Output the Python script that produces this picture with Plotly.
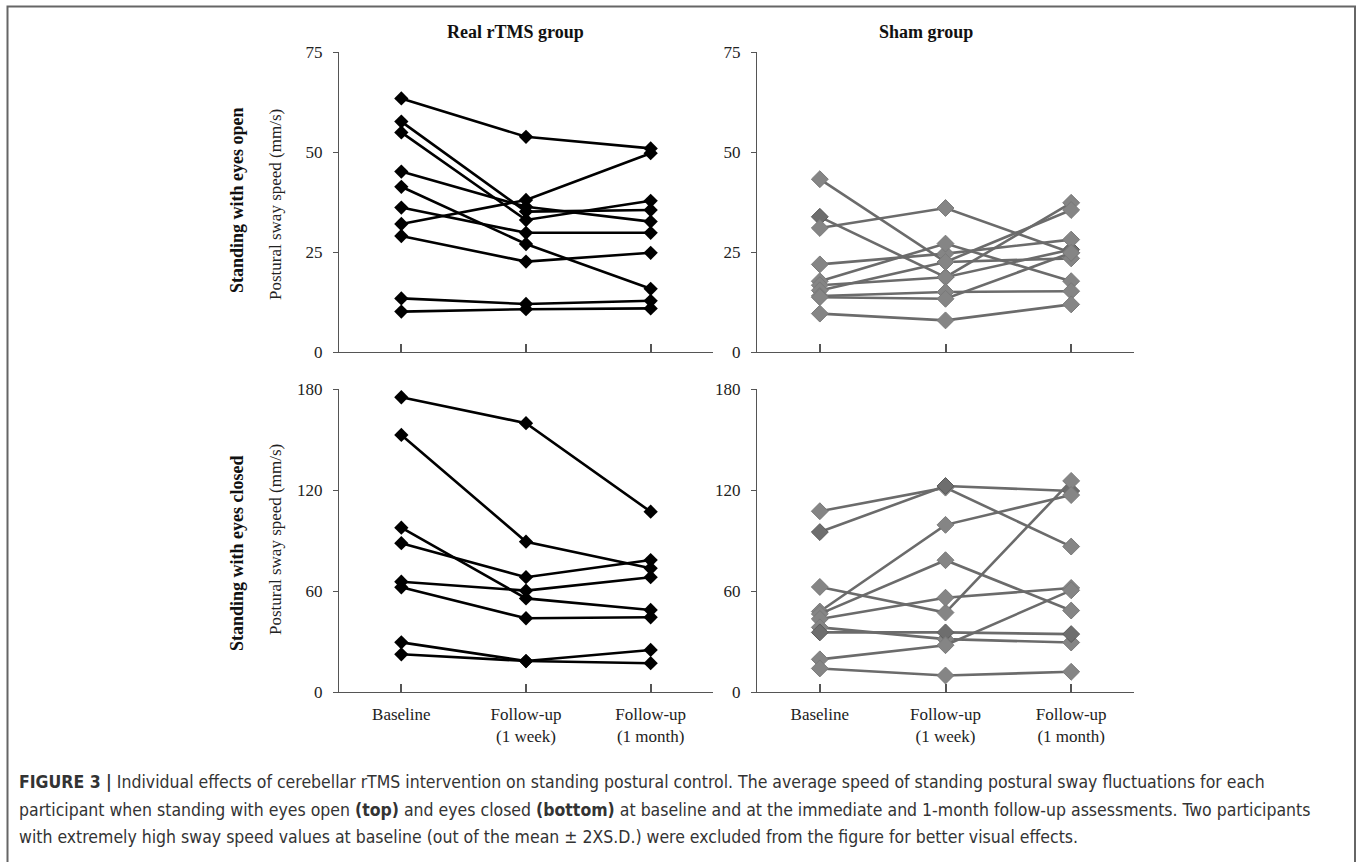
import plotly.graph_objects as go

W, H = 1360, 862

categories = ["Baseline", "Follow-up<br>(1 week)", "Follow-up<br>(1 month)"]

# Real rTMS group, eyes open (mm/s)
real_open = [
    [63.4, 53.8, 50.9],
    [57.6, 35.1, 35.5],
    [54.9, 33.0, 37.8],
    [45.1, 36.3, 32.6],
    [41.3, 27.0, 15.8],
    [36.1, 29.8, 29.8],
    [32.0, 38.0, 49.7],
    [29.0, 22.6, 24.8],
    [13.4, 12.0, 12.8],
    [10.1, 10.7, 10.9],
]

# Sham group, eyes open (mm/s)
sham_open = [
    [43.2, 22.5, 23.4],
    [33.8, 18.7, 25.6],
    [31.0, 36.0, 24.8],
    [21.9, 24.6, 28.1],
    [17.7, 27.1, 17.7],
    [16.7, 18.7, 37.3],
    [15.4, 22.5, 35.5],
    [14.0, 15.0, 15.2],
    [13.7, 13.3, 24.8],
    [9.6, 7.9, 11.9],
]
sham_open_dark = [1]

# Real rTMS group, eyes closed (mm/s)
real_closed = [
    [175.1, 159.7, 107.1],
    [152.7, 89.3, 73.5],
    [97.6, 55.6, 48.7],
    [88.4, 68.2, 78.4],
    [65.5, 60.2, 68.2],
    [62.2, 43.8, 44.4],
    [29.5, 18.4, 25.0],
    [22.4, 18.4, 17.1],
]

# Sham group, eyes closed (mm/s)
sham_closed = [
    [107.4, 121.4, 86.4],
    [95.0, 122.4, 119.4],
    [62.4, 47.2, 125.4],
    [47.8, 99.3, 117.0],
    [46.4, 78.3, 48.4],
    [43.4, 56.0, 61.8],
    [38.4, 31.4, 29.4],
    [35.4, 35.4, 34.4],
    [19.4, 27.8, 60.4],
    [14.0, 9.8, 12.0],
]
sham_closed_dark = [1, 7]

open_ticks = [0, 25, 50, 75]
closed_ticks = [0, 60, 120, 180]

SERIF = "Liberation Serif, Times New Roman, serif"
CAPFONT = "DejaVu Sans Condensed, Liberation Sans, Arial, sans-serif"


def px_x(p):
    return p / W


def px_y(p):
    return 1 - p / H


fig = go.Figure()

REAL_COL = "#000000"
SHAM_LINE = "#6b6b6b"
SHAM_MK = "#858585"
SHAM_DARK = "#6e6e6e"


def add_group(data, xa, ya, sham, dark_idx=()):
    for i, vals in enumerate(data):
        if sham:
            mk = dict(symbol="diamond", size=13,
                      color=SHAM_DARK if i in dark_idx else SHAM_MK,
                      line=dict(color="#5a5a5a" if i in dark_idx else "#7a7a7a", width=1))
            ln = dict(color=SHAM_LINE, width=2.6)
        else:
            mk = dict(symbol="diamond", size=11, color=REAL_COL, line=dict(width=0))
            ln = dict(color=REAL_COL, width=2.6)
        fig.add_trace(go.Scatter(
            x=[0, 1, 2], y=vals, mode="lines+markers",
            xaxis=xa, yaxis=ya, line=ln, marker=mk,
            showlegend=False, hoverinfo="y"))


add_group(real_open, "x", "y", False)
add_group(sham_open, "x2", "y2", True, sham_open_dark)
add_group(real_closed, "x3", "y3", False)
add_group(sham_closed, "x4", "y4", True, sham_closed_dark)

left_dom = [px_x(339), px_x(713)]
right_dom = [px_x(757), px_x(1134)]
top_dom = [px_y(352), px_y(52)]
bot_dom = [px_y(692), px_y(389)]

tickfont = dict(family=SERIF, size=17, color="#222222")
AX_COL = "#555555"


def xaxis_cfg(dom, anchor, labels):
    return dict(
        domain=dom, anchor=anchor, range=[-0.5, 2.5],
        tickmode="array", tickvals=[0, 1, 2],
        ticktext=categories if labels else ["", "", ""],
        ticks="inside", ticklen=8, tickwidth=1.5, tickcolor=AX_COL,
        showline=True, linecolor=AX_COL, linewidth=1.2,
        showgrid=False, zeroline=False, tickfont=tickfont, fixedrange=True,
        ticklabelstandoff=6, automargin=False)


def yaxis_cfg(dom, anchor, rng, tv):
    return dict(
        domain=dom, anchor=anchor, range=rng,
        tickmode="array", tickvals=tv,
        ticks="outside", ticklen=5, tickwidth=1.2, tickcolor=AX_COL,
        showline=True, linecolor=AX_COL, linewidth=1.2,
        showgrid=False, zeroline=False, tickfont=tickfont, fixedrange=True,
        ticklabelstandoff=7, automargin=False)


fig.update_layout(
    width=W, height=H,
    margin=dict(l=0, r=0, t=0, b=0, pad=0, autoexpand=False),
    paper_bgcolor="white", plot_bgcolor="white",
    showlegend=False,
    xaxis=xaxis_cfg(left_dom, "y", False),
    yaxis=yaxis_cfg(top_dom, "x", [0, 75], open_ticks),
    xaxis2=xaxis_cfg(right_dom, "y2", False),
    yaxis2=yaxis_cfg(top_dom, "x2", [0, 75], open_ticks),
    xaxis3=xaxis_cfg(left_dom, "y3", True),
    yaxis3=yaxis_cfg(bot_dom, "x3", [0, 180], closed_ticks),
    xaxis4=xaxis_cfg(right_dom, "y4", True),
    yaxis4=yaxis_cfg(bot_dom, "x4", [0, 180], closed_ticks),
)

ann = []
# Panel titles
ann.append(dict(text="<b>Real rTMS group</b>", x=px_x(515), y=px_y(32),
                font=dict(family=SERIF, size=18, color="#111")))
ann.append(dict(text="<b>Sham group</b>", x=px_x(926), y=px_y(32),
                font=dict(family=SERIF, size=18, color="#111")))
# Row labels
ann.append(dict(text="<b>Standing with eyes open</b>", x=px_x(237), y=px_y(200),
                textangle=-90, font=dict(family=SERIF, size=18, color="#111")))
ann.append(dict(text="<b>Standing with eyes closed</b>", x=px_x(237), y=px_y(553),
                textangle=-90, font=dict(family=SERIF, size=18, color="#111")))
ann.append(dict(text="Postural sway speed (mm/s)", x=px_x(275), y=px_y(205),
                textangle=-90, font=dict(family=SERIF, size=17, color="#222")))
ann.append(dict(text="Postural sway speed (mm/s)", x=px_x(275), y=px_y(540),
                textangle=-90, font=dict(family=SERIF, size=17, color="#222")))

cap_lines = [
    "<b>FIGURE 3 |</b> Individual effects of cerebellar rTMS intervention on standing postural control. The average speed of standing postural sway fluctuations for each",
    "participant when standing with eyes open <b>(top)</b> and eyes closed <b>(bottom)</b> at baseline and at the immediate and 1-month follow-up assessments. Two participants",
    "with extremely high sway speed values at baseline (out of the mean \u00b1 2XS.D.) were excluded from the figure for better visual effects.",
]
for i, t in enumerate(cap_lines):
    ann.append(dict(text=t, x=px_x(17), y=px_y(782 + 27.5 * i), xanchor="left",
                    font=dict(family=CAPFONT, size=17.5, color="#333333")))

for a in ann:
    a.setdefault("xanchor", "center")
    a.update(xref="paper", yref="paper", yanchor="middle", showarrow=False)
fig.update_layout(annotations=ann)

# Outer frame
fig.add_shape(type="rect", xref="paper", yref="paper",
              x0=px_x(7.5), x1=px_x(1355), y0=-0.02, y1=px_y(6.5),
              line=dict(color="#666666", width=2), fillcolor="rgba(0,0,0,0)")

fig.write_html(
    "out.html",
    config={"displayModeBar": False},
    post_script="document.body.style.margin='0';document.body.style.overflow='hidden';",
)
